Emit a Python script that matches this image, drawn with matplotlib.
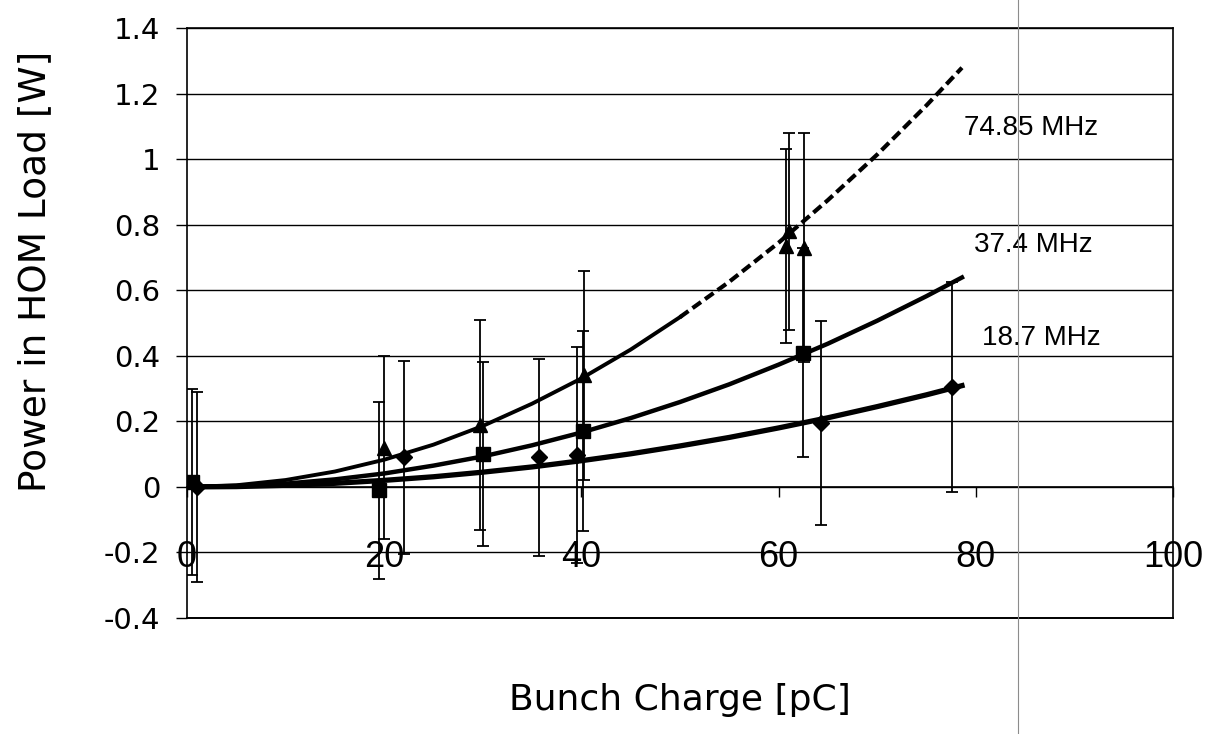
import matplotlib.pyplot as plt
from matplotlib.lines import Line2D

# measured points: bunch charge [pC], power [W], half length of error bar [W]
x_187 = [1.0, 22.0, 35.7, 39.6, 64.3, 77.6]
y_187 = [0.0, 0.09, 0.09, 0.097, 0.195, 0.305]
e_187 = [0.29, 0.295, 0.30, 0.33, 0.31, 0.32]

x_374 = [0.5, 19.5, 30.0, 40.2, 62.5]
y_374 = [0.015, -0.01, 0.10, 0.17, 0.41]
e_374 = [0.285, 0.27, 0.28, 0.305, 0.32]

x_7485 = [20.0, 29.7, 40.3, 60.8, 61.1, 62.6]
y_7485 = [0.12, 0.19, 0.34, 0.735, 0.78, 0.73]
e_7485 = [0.28, 0.32, 0.32, 0.295, 0.30, 0.35]

# trend curves
fit_x = [0, 5, 10, 15, 20, 25, 30, 35, 40, 45, 50, 55, 60, 65, 70, 75, 78.6]
fit_187 = [0, 0.001, 0.005, 0.011, 0.02, 0.031, 0.045, 0.061, 0.08, 0.101,
           0.125, 0.151, 0.18, 0.211, 0.245, 0.281, 0.309]
fit_374 = [0, 0.003, 0.010, 0.023, 0.041, 0.065, 0.093, 0.127, 0.166, 0.21,
           0.259, 0.313, 0.373, 0.437, 0.507, 0.582, 0.639]
fit_7485 = [0, 0.005, 0.021, 0.047, 0.083, 0.129, 0.186, 0.254, 0.331, 0.419,
            0.518, 0.626, 0.745, 0.875, 1.014, 1.164, 1.279]

labels = ['74.85 MHz', '37.4 MHz', '18.7 MHz']
label_x = [85.6, 85.8, 86.6]
label_y = [1.095, 0.738, 0.454]

x_ticks = [0, 20, 40, 60, 80, 100]
y_ticks = [-0.4, -0.2, 0, 0.2, 0.4, 0.6, 0.8, 1.0, 1.2, 1.4]
y_tick_labels = ['-0.4', '-0.2', '0', '0.2', '0.4', '0.6', '0.8', '1', '1.2', '1.4']

fig = plt.figure(figsize=(12.08, 7.34), dpi=100)
ax = fig.add_axes([0.1548, 0.158, 0.8162, 0.8038])

# error bars
for xs, ys, es in [(x_187, y_187, e_187), (x_374, y_374, e_374), (x_7485, y_7485, e_7485)]:
    ax.errorbar(xs, ys, yerr=es, fmt='none', ecolor='black',
                elinewidth=1.3, capsize=4, capthick=1.3, zorder=3)

# trend curves
ax.plot(fit_x, fit_187, color='black', lw=3.8, zorder=4)
ax.plot(fit_x, fit_374, color='black', lw=3.2, zorder=4)
n = fit_x.index(50)
ax.plot(fit_x[:n + 1], fit_7485[:n + 1], color='black', lw=2.8, zorder=4)
ax.plot(fit_x[n:], fit_7485[n:], color='black', lw=3.0, dashes=(2.5, 1.2), zorder=4)

# markers
ax.plot(x_187, y_187, ls='none', marker='D', ms=8, color='black', zorder=5)
ax.plot(x_374, y_374, ls='none', marker='s', ms=10, color='black', zorder=5)
ax.plot(x_7485, y_7485, ls='none', marker='^', ms=10, color='black', zorder=5)

for t, lx, ly in zip(labels, label_x, label_y):
    ax.text(lx, ly, t, ha='center', va='center', fontsize=20, family='Liberation Sans')

ax.set_xlim(0, 100)
ax.set_ylim(-0.4, 1.4)
ax.set_xticks(x_ticks)
ax.set_yticks(y_ticks)
ax.set_yticklabels(y_tick_labels)
ax.grid(axis='y', color='black', lw=1)
ax.set_axisbelow(True)
ax.axhline(-0.4, color='black', lw=1.4, clip_on=False)

ax.spines['bottom'].set_position(('data', 0))
for s in ax.spines.values():
    s.set_color('black')
    s.set_linewidth(1.2)

ax.tick_params(axis='x', direction='out', length=7, width=1, pad=31, labelsize=26)
for lbl in ax.get_xticklabels():
    lbl.set_family('Liberation Sans')
ax.tick_params(axis='y', direction='out', length=8, width=1, pad=11, labelsize=21)

fig.text(0.029, 0.63, 'Power in HOM Load [W]', rotation=90,
         ha='center', va='center', fontsize=27)
fig.text(0.563, 0.046, 'Bunch Charge [pC]', ha='center', va='center', fontsize=26)

# thin grey scan line
fig.add_artist(Line2D([1018 / 1208] * 2, [0, 1], transform=fig.transFigure,
                      color='0.55', lw=0.8))

fig.savefig('out.png', dpi=100)
